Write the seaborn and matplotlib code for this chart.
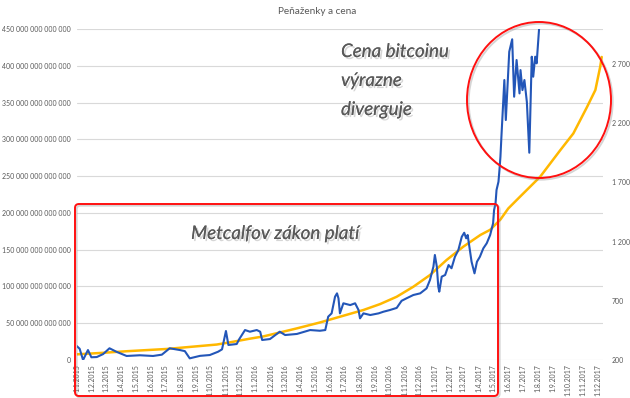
import numpy as np
import pandas as pd
import matplotlib
matplotlib.use("Agg")
import matplotlib.pyplot as plt
import matplotlib.dates as mdates
import matplotlib.patheffects as pe
from matplotlib.patches import FancyBboxPatch, Ellipse
from matplotlib.transforms import IdentityTransform
from matplotlib.ticker import FuncFormatter
import seaborn as sns

# --- data --- #

# bitcoin price (USD, right axis)
price_dates = [
    "2015-01-01", "2015-01-07", "2015-01-14", "2015-01-24", "2015-01-31", "2015-02-11",
    "2015-02-24", "2015-03-09", "2015-03-23", "2015-04-13", "2015-05-10", "2015-06-06",
    "2015-06-24", "2015-07-10", "2015-07-31", "2015-08-10", "2015-08-20", "2015-09-10",
    "2015-09-30", "2015-10-17", "2015-10-25", "2015-11-02", "2015-11-07", "2015-11-14",
    "2015-11-24", "2015-11-29", "2015-12-11", "2015-12-21", "2016-01-04", "2016-01-11",
    "2016-01-15", "2016-01-31", "2016-02-20", "2016-03-02", "2016-03-26", "2016-04-22",
    "2016-05-12", "2016-05-23", "2016-05-29", "2016-06-05", "2016-06-12", "2016-06-16",
    "2016-06-19", "2016-06-22", "2016-06-29", "2016-07-13", "2016-07-23", "2016-07-30",
    "2016-08-02", "2016-08-09", "2016-08-23", "2016-09-09", "2016-09-19", "2016-10-02",
    "2016-10-16", "2016-10-26", "2016-11-05", "2016-11-19", "2016-12-03", "2016-12-16",
    "2016-12-23", "2016-12-30", "2017-01-02", "2017-01-06", "2017-01-09", "2017-01-11",
    "2017-01-16", "2017-01-23", "2017-01-30", "2017-02-05", "2017-02-12", "2017-02-19",
    "2017-02-26", "2017-03-03", "2017-03-07", "2017-03-10", "2017-03-15", "2017-03-18",
    "2017-03-24", "2017-03-29", "2017-04-04", "2017-04-11", "2017-04-18", "2017-04-25",
    "2017-05-01", "2017-05-03", "2017-05-06", "2017-05-08", "2017-05-12", "2017-05-14",
    "2017-05-16", "2017-05-18", "2017-05-24", "2017-05-27", "2017-06-03", "2017-06-09",
    "2017-06-13", "2017-06-18", "2017-06-24", "2017-06-26", "2017-06-30", "2017-07-04",
    "2017-07-09", "2017-07-14", "2017-07-19", "2017-07-22", "2017-07-26", "2017-07-29",
    "2017-08-03",
]
price_usd = [
    318, 295, 200, 284, 223, 225,
    250, 299, 270, 234, 240, 234,
    245, 299, 284, 275, 214, 235,
    242, 270, 290, 445, 327, 330,
    335, 375, 453, 439, 453, 439,
    369, 377, 439, 411, 420, 453,
    447, 453, 566, 594, 735, 763,
    721, 594, 679, 664, 679, 622,
    552, 594, 580, 594, 608, 622,
    640, 700, 721, 749, 763, 805,
    876, 988, 1087, 988, 819, 777,
    904, 918, 1002, 975, 1072, 1129,
    1241, 1275, 1228, 1256, 1115, 1030,
    932, 1030, 1072, 1143, 1186, 1256,
    1355, 1467, 1524, 1636, 1706, 1805,
    1917, 2086, 2565, 2227, 2804, 2909,
    2424, 2734, 2452, 2649, 2480, 2565,
    2380, 1951, 2762, 2593, 2762, 2706,
    3000,
]

# Metcalfe value (trillions, left axis)
metcalfe_dates = [
    "2015-01-01", "2015-02-17", "2015-04-15", "2015-07-04", "2015-10-14", "2015-11-10",
    "2015-12-21", "2016-01-17", "2016-02-27", "2016-03-26", "2016-05-12", "2016-06-02",
    "2016-08-09", "2016-09-12", "2016-10-16", "2016-11-19", "2016-12-23", "2017-01-26",
    "2017-03-01", "2017-04-05", "2017-04-25", "2017-05-16", "2017-06-01", "2017-06-25",
    "2017-08-05", "2017-09-15", "2017-10-12", "2017-11-09", "2017-11-26", "2017-12-06",
    "2017-12-09",
]
metcalfe_tn = [
    7.7, 9.5, 12, 15, 21, 24,
    29, 32, 38.5, 43, 51, 55,
    68, 76, 86, 99.6, 115.5, 136,
    154, 170, 177, 191, 206, 222,
    249, 285, 308, 344, 367, 399,
    412,
]

left_ticks = np.arange(0, 450e12 + 1, 50e12)
right_ticks = [200, 700, 1200, 1700, 2200, 2700]

price_df = pd.DataFrame({"date": pd.to_datetime(price_dates), "price": price_usd})
metcalfe_df = pd.DataFrame({"date": pd.to_datetime(metcalfe_dates),
                            "value": np.array(metcalfe_tn) * 1e12})

# --- plot --- #

sns.set_theme(style="white")
plt.rcParams["font.family"] = ["Lato", "DejaVu Sans"]
grey = "#595959"

W, H = 630, 398
fig = plt.figure(figsize=(W / 100, H / 100), dpi=100)
ax = fig.add_axes([76.7 / W, 1 - 360 / H, (602.7 - 76.7) / W, (360 - 29) / H])
ax2 = ax.twinx()

sns.lineplot(data=metcalfe_df, x="date", y="value", ax=ax, color="#FFB800", linewidth=1.8)
sns.lineplot(data=price_df, x="date", y="price", ax=ax2, color="#2356B8", linewidth=1.5)

ax.set_xlim(pd.Timestamp("2015-01-01"), pd.Timestamp("2017-12-11"))
ax.set_ylim(0, 450e12)
ax2.set_ylim(200, 2996)

ax.set_yticks(left_ticks)
ax.yaxis.set_major_formatter(FuncFormatter(lambda v, p: f"{int(round(v)):,}".replace(",", " ")))
ax2.set_yticks(right_ticks)
ax2.yaxis.set_major_formatter(FuncFormatter(lambda v, p: f"{int(v):,}".replace(",", " ")))

ax.xaxis.set_major_locator(mdates.MonthLocator())
ax.xaxis.set_major_formatter(FuncFormatter(
    lambda v, p: f"{mdates.num2date(v).day}.{mdates.num2date(v).month}.{mdates.num2date(v).year}"))

ax.grid(axis="y", color="#D9D9D9", linewidth=0.8)
ax.grid(axis="x", visible=False)
ax.set_axisbelow(True)
for a in (ax, ax2):
    for s in a.spines.values():
        s.set_visible(False)
    a.set_xlabel("")
    a.set_ylabel("")

ax.tick_params(axis="y", length=0, pad=4.5, labelsize=5.0, labelcolor=grey)
ax2.tick_params(axis="y", length=0, pad=6.5, labelsize=5.0, labelcolor=grey)
ax.tick_params(axis="x", length=0, pad=3, labelsize=5.0, labelcolor=grey, labelrotation=90)

fig.text(317 / W, 1 - 12 / H, "Peňaženky a cena", ha="center", va="center",
         fontsize=7.2, color=grey)

# annotations: red rectangle and circle with a soft shadow
line_shadow = [pe.SimpleLineShadow(offset=(1.2, -1.2), shadow_color="#888888", alpha=0.35),
               pe.Normal()]
fig.patches.append(FancyBboxPatch((75, H - 396), 423, 192,
                                  boxstyle="round,pad=0,rounding_size=4",
                                  transform=IdentityTransform(), fill=False,
                                  edgecolor="#FF1010", linewidth=1.4, path_effects=line_shadow))
fig.patches.append(Ellipse((539, H - 100), 144, 156, transform=IdentityTransform(),
                           fill=False, edgecolor="#FF1010", linewidth=1.4,
                           path_effects=line_shadow))

txt_shadow = [pe.withSimplePatchShadow(offset=(1.5, -1.5), shadow_rgbFace="#BBBBBB", alpha=0.6),
              pe.Normal()]
fig.text(191 / W, (H - 239) / H, "Metcalfov zákon platí", fontsize=13.5, style="italic",
         color=grey, ha="left", va="baseline", path_effects=txt_shadow)
for i, line in enumerate(["Cena bitcoinu", "výrazne", "diverguje"]):
    fig.text(341 / W, (H - 57 - i * 29) / H, line, fontsize=13.5, style="italic",
             color=grey, ha="left", va="baseline", path_effects=txt_shadow)

fig.savefig("out.png", dpi=100)
